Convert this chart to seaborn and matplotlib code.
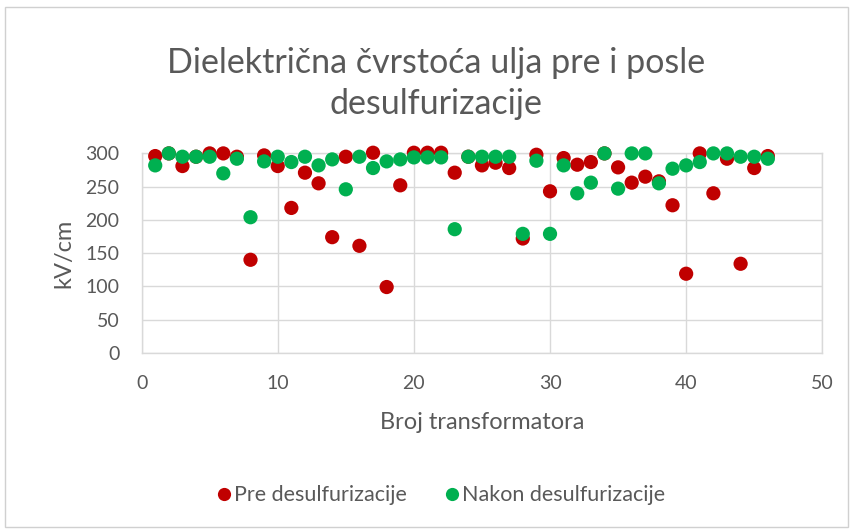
import pandas as pd
import matplotlib.pyplot as plt
import seaborn as sns
from matplotlib.patches import Rectangle

# data
transformatori = list(range(1, 47))
pre = [296, 300, 281, 295, 300, 300, 295, 140, 297, 281,
       218, 271, 255, 174, 295, 161, 301, 99, 252, 301,
       301, 301, 271, 295, 282, 286, 278, 172, 298, 243,
       293, 283, 287, 300, 279, 256, 265, 258, 222, 119,
       300, 240, 292, 134, 278, 296]
nakon = [282, 300, 295, 295, 295, 270, 292, 204, 288, 295,
         287, 295, 282, 291, 246, 295, 278, 288, 291, 294,
         294, 294, 186, 295, 295, 295, 295, 179, 289, 179,
         282, 240, 256, 300, 247, 300, 300, 255, 277, 282,
         287, 300, 300, 295, 295, 292]
serije = ["Pre desulfurizacije", "Nakon desulfurizacije"]
boje = ["#C00000", "#00B050"]

df = pd.DataFrame({
    "x": transformatori * 2,
    "y": pre + nakon,
    "serija": [serije[0]] * len(pre) + [serije[1]] * len(nakon),
})

sns.set_theme(style="white")
plt.rcParams['font.family'] = ['Lato', 'DejaVu Sans']
txt = "#595959"
grid = "#d9d9d9"

fig = plt.figure(figsize=(8.53, 5.29), dpi=100)
ax = fig.add_axes([0.166, 0.333, 0.798, 0.377])

sns.scatterplot(data=df, x="x", y="y", hue="serija",
                palette=dict(zip(serije, boje)),
                s=105, edgecolor="none", ax=ax, legend=False, zorder=3,
                clip_on=False)

ax.set_xlim(0, 50)
ax.set_ylim(0, 300)
ax.set_xticks(range(0, 51, 10))
ax.set_yticks(range(0, 301, 50))
ax.grid(True, color=grid, linewidth=1)
ax.set_axisbelow(True)
for sp in ax.spines.values():
    sp.set_color(grid)
    sp.set_linewidth(1)
ax.tick_params(length=0, labelsize=14, colors=txt)
ax.tick_params(axis="x", pad=16)
ax.tick_params(axis="y", pad=16)

ax.set_xlabel("Broj transformatora", fontsize=17, color=txt, labelpad=14)
ax.set_ylabel("kV/cm", fontsize=17, color=txt, labelpad=8)

fig.text(0.511, 0.862, "Dielektrična čvrstoća ulja pre i posle",
         ha="center", va="baseline", fontsize=24.5, color=txt)
fig.text(0.511, 0.785, "desulfurizacije",
         ha="center", va="baseline", fontsize=24.5, color=txt)

# legend below the plot
handles = [plt.Line2D([], [], marker="o", linestyle="", markersize=9.5,
                      markerfacecolor=c, markeredgecolor="none")
           for c in boje]
fig.legend(handles, serije, loc="center", bbox_to_anchor=(0.516, 0.064),
           ncol=2, frameon=False, fontsize=15.5, labelcolor=txt,
           handletextpad=0.05, columnspacing=1.7, handlelength=0.8)

fig.patches.append(Rectangle((0.006, 0.004), 0.988, 0.982, transform=fig.transFigure,
                             fill=False, edgecolor="#d0d0d0", linewidth=1))

fig.savefig("out.png", dpi=100, facecolor="white")
